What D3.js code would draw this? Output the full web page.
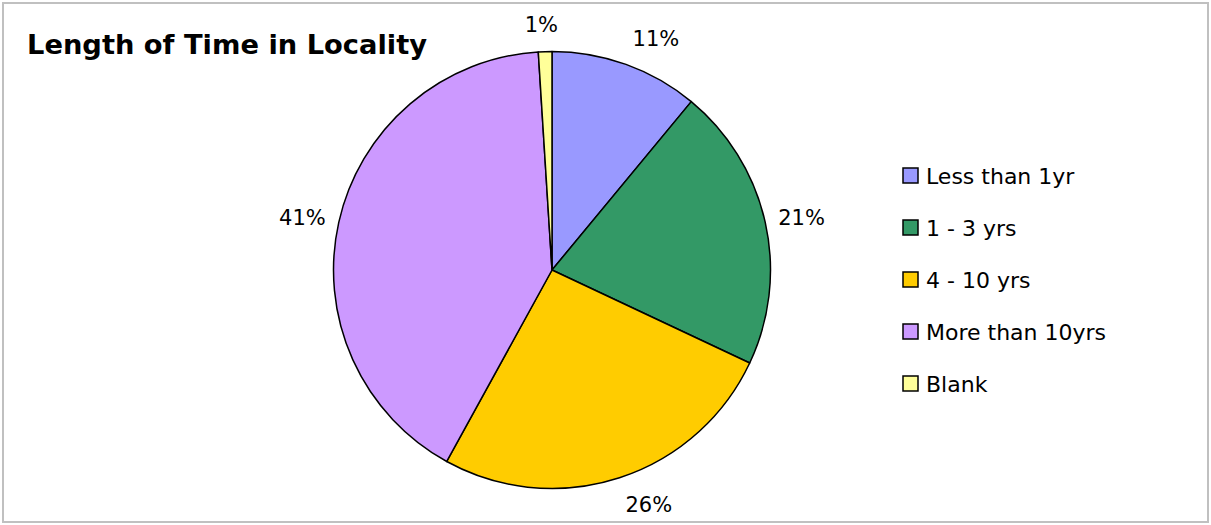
<!DOCTYPE html>
<html>
<head>
<meta charset="utf-8">
<script src="https://cdn.jsdelivr.net/npm/d3@7/dist/d3.min.js"></script>
<style>
  html, body { margin: 0; padding: 0; background: #fff; }
  svg { display: block; font-family: "DejaVu Sans", Verdana, sans-serif; }
</style>
</head>
<body>
<svg id="chart" width="1211" height="525"></svg>
<script>
// Survey responses: how long respondents have lived in the locality (percent)
const categories = ["Less than 1yr", "1 - 3 yrs", "4 - 10 yrs", "More than 10yrs", "Blank"];
const percents = [11, 21, 26, 41, 1];
const colors = ["#9999FF", "#339966", "#FFCC00", "#CC99FF", "#FFFF99"];
const title = "Length of Time in Locality";

const svg = d3.select("#chart");
const W = 1211, H = 525;

// outer frame
svg.append("rect")
  .attr("x", 3).attr("y", 3)
  .attr("width", W - 6).attr("height", H - 6)
  .attr("fill", "#fff")
  .attr("stroke", "#c0c0c0")
  .attr("stroke-width", 2);

// title
svg.append("text")
  .attr("x", 27).attr("y", 54)
  .attr("font-size", 27.3)
  .attr("font-weight", "bold")
  .attr("fill", "#000")
  .text(title);

const data = categories.map((c, i) => ({ cat: c, value: percents[i], color: colors[i] }));

const cx = 552, cy = 270, r = 218.5;
const pie = d3.pie().value(d => d.value).sort(null);
const arcs = pie(data);
const arc = d3.arc().innerRadius(0).outerRadius(r);

const g = svg.append("g").attr("transform", `translate(${cx},${cy})`);

g.selectAll("path.slice")
  .data(arcs)
  .enter().append("path")
  .attr("class", "slice")
  .attr("d", arc)
  .attr("fill", d => d.data.color)
  .attr("stroke", "#000")
  .attr("stroke-width", 1.5)
  .attr("stroke-linejoin", "round");

// percentage labels sit just outside the rim; the text box is anchored
// on the side facing the slice so it never overlaps the pie
const labelSize = 21;
const capH = 0.729 * labelSize;
const clamp = v => Math.max(-1, Math.min(1, v));
const fmt = v => v + "%";
g.selectAll("text.pct")
  .data(arcs)
  .enter().append("text")
  .attr("class", "pct")
  .attr("font-size", labelSize)
  .attr("fill", "#000")
  .attr("text-anchor", "middle")
  .text(d => fmt(d.data.value))
  .each(function(d) {
    const a = (d.startAngle + d.endAngle) / 2;
    const s = Math.sin(a), c = Math.cos(a);
    const w = this.getComputedTextLength();
    const gap = 20 - 7 * s * s;
    const px = (r + gap) * s;
    const py = -(r + gap) * c;
    const x = px + (w / 2) * clamp(s * 6);
    const yc = py - (capH / 2) * clamp(c * 1.3);
    d3.select(this).attr("x", x).attr("y", yc + capH / 2);
  });

// legend
const legend = svg.append("g").attr("transform", "translate(903,168)");
const rowH = 52;
const legendSize = 22;
const items = legend.selectAll("g.item")
  .data(data)
  .enter().append("g")
  .attr("class", "item")
  .attr("transform", (d, i) => `translate(0,${i * rowH})`);

items.append("rect")
  .attr("x", 0).attr("y", 0)
  .attr("width", 15).attr("height", 15)
  .attr("fill", d => d.color)
  .attr("stroke", "#000")
  .attr("stroke-width", 1.5);

items.append("text")
  .attr("x", 23).attr("y", 15.5)
  .attr("font-size", legendSize)
  .attr("fill", "#000")
  .text(d => d.cat);
</script>
</body>
</html>
